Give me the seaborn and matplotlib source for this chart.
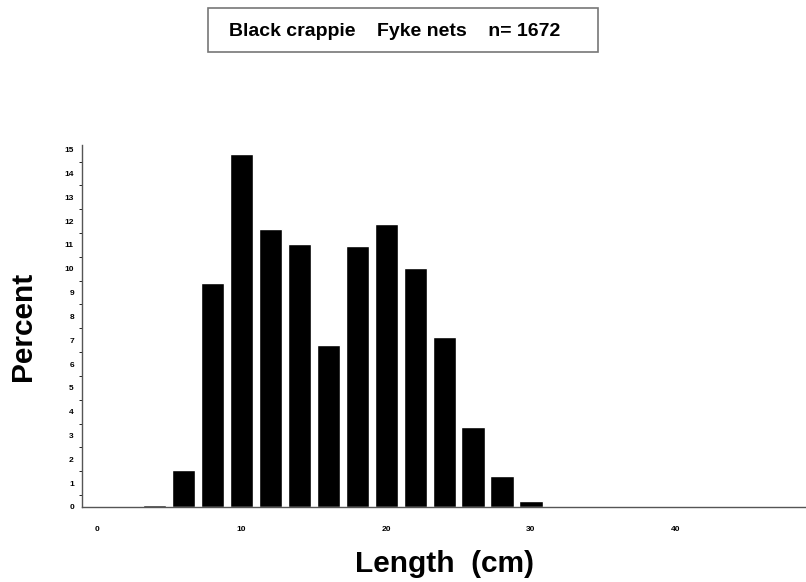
import numpy as np
import pandas as pd
import matplotlib
matplotlib.use("Agg")
import matplotlib.pyplot as plt
import seaborn as sns
from matplotlib.ticker import MultipleLocator
from matplotlib.patches import Rectangle

# length classes (cm) and percent of catch
lengths = [4, 6, 8, 10, 12, 14, 16, 18, 20, 22, 24, 26, 28, 30]
percent = [0.1, 1.55, 9.4, 14.8, 11.65, 11.05, 6.8, 10.95, 11.9, 10.05, 7.15, 3.35, 1.3, 0.25]
x_ticks = [0, 10, 20, 30, 40]
y_ticks = list(range(0, 16))
title_text = "Black crappie    Fyke nets    n= 1672"

sns.set_style("white")
plt.rcParams["font.family"] = ["Liberation Sans", "DejaVu Sans"]
plt.rcParams["text.color"] = "black"
plt.rcParams["axes.labelcolor"] = "black"
plt.rcParams["xtick.color"] = "black"
plt.rcParams["ytick.color"] = "black"

df = pd.DataFrame({"length": lengths, "percent": percent})

fig = plt.figure(figsize=(8.06, 5.82), dpi=100)
ax = fig.add_axes([0.102, 0.129, 0.898, 0.622])

sns.barplot(data=df, x="length", y="percent", native_scale=True,
            color="black", saturation=1, width=0.8, ax=ax)

ax.set_xlim(-1, 49)
ax.set_ylim(0, 15.2)
ax.set_xticks(x_ticks)
ax.set_yticks(y_ticks)
ax.yaxis.set_minor_locator(MultipleLocator(0.5))
ax.tick_params(axis="y", which="major", length=4, width=0.8, labelsize=6, pad=2)
ax.tick_params(axis="y", which="minor", length=2.5, width=0.6, left=True)
ax.tick_params(axis="x", length=0, labelsize=6, pad=14)
for lab in ax.get_xticklabels() + ax.get_yticklabels():
    lab.set_fontweight("bold")

sns.despine(ax=ax, top=True, right=True)
for side in ("left", "bottom"):
    ax.spines[side].set_color("#555555")
    ax.spines[side].set_linewidth(1.0)

ax.set_xlabel("Length  (cm)", fontsize=21.5, fontweight="bold", labelpad=12)
ax.set_ylabel("Percent", fontsize=21.5, fontweight="bold", labelpad=20)

# title box
fig.patches.append(Rectangle((208 / 806, 1 - 52 / 582), 390 / 806, 44 / 582,
                             transform=fig.transFigure, facecolor="white",
                             edgecolor="#777777", linewidth=1.2))
fig.text(395 / 806, 1 - 31 / 582, title_text, ha="center", va="center",
         fontsize=14, fontweight="bold")

fig.savefig("out.png", dpi=100)
